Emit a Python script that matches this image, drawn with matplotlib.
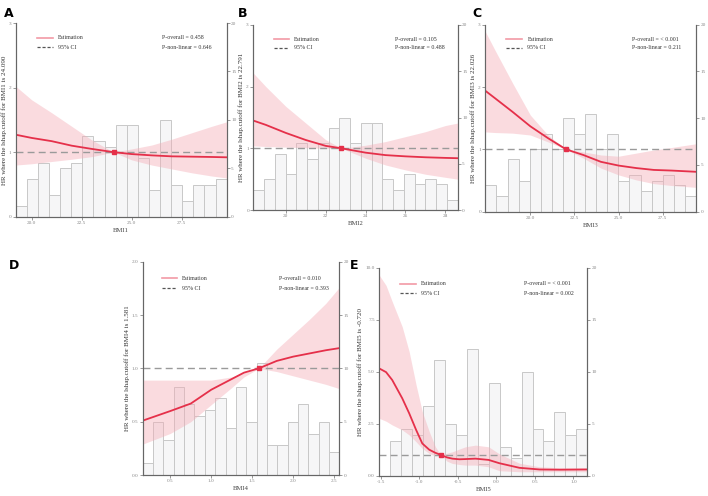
import numpy as np
import matplotlib
matplotlib.use("Agg")
import matplotlib.pyplot as plt

plt.rcParams.update({
    'font.family': 'serif',
    'font.serif': ['Liberation Serif', 'DejaVu Serif'],
    'axes.linewidth': 0.8,
})

# ---------------------------------------------------------------------------
# Data
# ---------------------------------------------------------------------------

# Panel A: BMI1
bmi1_x = [19.2, 20.0, 21.0, 22.0, 23.0, 24.09, 25.0, 26.0, 27.0, 28.0, 29.0, 29.75]
bmi1_est = [1.27, 1.22, 1.17, 1.10, 1.05, 1.00, 0.97, 0.95, 0.935, 0.93, 0.925, 0.92]
bmi1_hi = [2.02, 1.81, 1.61, 1.40, 1.19, 1.00, 1.05, 1.11, 1.20, 1.30, 1.40, 1.47]
bmi1_lo = [0.80, 0.82, 0.855, 0.89, 0.93, 1.00, 0.88, 0.80, 0.74, 0.68, 0.63, 0.60]
bmi1_counts = [1.1, 3.9, 5.5, 2.2, 5.0, 5.5, 8.3, 7.8, 7.2, 9.5, 9.5, 6.1, 2.8, 10.0,
               3.3, 1.6, 3.3, 3.3, 3.9]

# Panel B: BMI2
bmi2_x = [18.37, 19.0, 20.0, 21.0, 22.0, 22.791, 24.0, 25.0, 26.0, 27.0, 28.0, 28.62]
bmi2_est = [1.45, 1.38, 1.25, 1.135, 1.04, 1.00, 0.93, 0.89, 0.87, 0.855, 0.845, 0.84]
bmi2_hi = [2.22, 2.00, 1.68, 1.41, 1.14, 1.00, 1.05, 1.11, 1.19, 1.27, 1.37, 1.41]
bmi2_lo = [1.04, 1.03, 1.02, 1.01, 1.00, 1.00, 0.84, 0.73, 0.65, 0.58, 0.53, 0.50]
bmi2_counts = [2.2, 3.3, 6.1, 3.85, 7.2, 5.5, 7.2, 8.9, 10.0, 7.2, 9.45, 9.45, 3.3,
               2.2, 3.85, 2.8, 3.3, 2.8, 1.1]

# Panel C: BMI3
bmi3_x = [17.45, 18.0, 19.0, 20.0, 21.0, 22.026, 23.0, 24.0, 25.0, 26.0, 27.0, 28.0, 29.39]
bmi3_est = [1.94, 1.82, 1.60, 1.37, 1.18, 1.00, 0.91, 0.80, 0.74, 0.70, 0.67, 0.66, 0.64]
bmi3_hi = [2.89, 2.59, 2.06, 1.55, 1.23, 1.00, 0.96, 0.91, 0.89, 0.94, 0.99, 1.03, 1.09]
bmi3_lo = [1.28, 1.27, 1.26, 1.23, 1.12, 1.00, 0.86, 0.70, 0.59, 0.51, 0.45, 0.42, 0.39]
bmi3_counts = [2.85, 1.7, 5.6, 3.3, 6.7, 8.3, 6.7, 10.0, 8.3, 10.5, 6.7, 8.3, 3.3,
               3.9, 2.25, 3.3, 3.9, 2.85, 1.7]

# Panel D: BMI4
bmi4_x = [0.163, 0.5, 0.75, 1.0, 1.25, 1.4, 1.581, 1.8, 2.0, 2.2, 2.4, 2.565]
bmi4_est = [0.51, 0.60, 0.67, 0.80, 0.90, 0.96, 1.00, 1.07, 1.11, 1.14, 1.17, 1.19]
bmi4_hi = [0.89, 0.89, 0.89, 0.89, 0.92, 0.96, 1.00, 1.18, 1.32, 1.46, 1.61, 1.76]
bmi4_lo = [0.29, 0.39, 0.50, 0.66, 0.82, 0.92, 1.00, 0.97, 0.93, 0.89, 0.85, 0.81]
bmi4_counts = [1.1, 5.0, 3.3, 8.3, 6.7, 5.5, 6.1, 7.2, 4.4, 8.3, 5.0, 10.5, 2.8,
               2.8, 5.0, 6.7, 3.8, 5.0, 2.2]

# Panel E: BMI5
bmi5_x = [-1.52, -1.43, -1.35, -1.22, -1.13, -1.04, -0.96, -0.87, -0.79, -0.72, -0.64,
          -0.57, -0.48, -0.40, -0.27, -0.10, 0.04, 0.30, 0.56, 0.82, 1.18]
bmi5_est = [5.16, 4.98, 4.60, 3.72, 3.00, 2.20, 1.55, 1.25, 1.10, 1.00, 0.88,
            0.82, 0.79, 0.80, 0.82, 0.76, 0.60, 0.38, 0.30, 0.29, 0.30]
bmi5_hi = [9.65, 9.15, 8.37, 7.16, 5.96, 4.36, 3.08, 2.12, 1.39, 1.00, 1.08,
           1.15, 1.28, 1.39, 1.47, 1.39, 1.05, 0.60, 0.43, 0.38, 0.38]
bmi5_lo = [2.76, 2.62, 2.44, 2.20, 1.96, 1.63, 1.31, 1.07, 0.95, 1.00, 0.70,
           0.59, 0.54, 0.51, 0.51, 0.43, 0.24, 0.19, 0.19, 0.19, 0.19]
bmi5_counts = [0.0, 3.33, 4.45, 3.9, 6.67, 11.1, 5.0, 3.9, 12.2, 1.1, 8.9, 2.8,
               1.67, 10.0, 4.45, 3.33, 6.1, 3.9, 4.45]

panels = [
    dict(letter='A', name='BMI1', cutoff=24.090, x=bmi1_x, est=bmi1_est, hi=bmi1_hi,
         lo=bmi1_lo, counts=bmi1_counts, xlim=(19.2, 29.75), xticks=[20.0, 22.5, 25.0, 27.5],
         xfmt='{:.1f}', ylim=(0, 3), yticks=[0, 1, 2, 3], yfmt='{:.0f}',
         p1='P-overall = 0.458', p2='P-non-linear = 0.646',
         rect=[0.0222, 0.5631, 0.298, 0.3905]),
    dict(letter='B', name='BMI2', cutoff=22.791, x=bmi2_x, est=bmi2_est, hi=bmi2_hi,
         lo=bmi2_lo, counts=bmi2_counts, xlim=(18.37, 28.62), xticks=[20, 22, 24, 26, 28],
         xfmt='{:.0f}', ylim=(0, 3), yticks=[0, 1, 2, 3], yfmt='{:.0f}',
         p1='P-overall = 0.105', p2='P-non-linear = 0.488',
         rect=[0.3578, 0.5766, 0.2887, 0.373]),
    dict(letter='C', name='BMI3', cutoff=22.026, x=bmi3_x, est=bmi3_est, hi=bmi3_hi,
         lo=bmi3_lo, counts=bmi3_counts, xlim=(17.45, 29.39), xticks=[20.0, 22.5, 25.0, 27.5],
         xfmt='{:.1f}', ylim=(0, 3), yticks=[0, 1, 2, 3], yfmt='{:.0f}',
         p1='P-overall = < 0.001', p2='P-non-linear = 0.211',
         rect=[0.6855, 0.5732, 0.2976, 0.377]),
    dict(letter='D', name='BMI4', cutoff=1.581, x=bmi4_x, est=bmi4_est, hi=bmi4_hi,
         lo=bmi4_lo, counts=bmi4_counts, xlim=(0.163, 2.565), xticks=[0.5, 1.0, 1.5, 2.0, 2.5],
         xfmt='{:.1f}', ylim=(0, 2), yticks=[0, 0.5, 1.0, 1.5, 2.0], yfmt='{:.1f}',
         p1='P-overall = 0.010', p2='P-non-linear = 0.393',
         rect=[0.2016, 0.0423, 0.2777, 0.430]),
    dict(letter='E', name='BMI5', cutoff=-0.720, x=bmi5_x, est=bmi5_est, hi=bmi5_hi,
         lo=bmi5_lo, counts=bmi5_counts, xlim=(-1.518, 1.18),
         xticks=[-1.5, -1.0, -0.5, 0.0, 0.5, 1.0],
         xfmt='{:.1f}', ylim=(0, 10), yticks=[0, 2.5, 5.0, 7.5, 10.0], yfmt='{:.1f}',
         p1='P-overall = < 0.001', p2='P-non-linear = 0.002',
         rect=[0.5357, 0.0409, 0.2938, 0.4194]),
]

CURVE = '#e5304a'
BAND = '#f4aab5'
SPINE = '#666666'
TICK = '#888888'

fig = plt.figure(figsize=(7.08, 4.96), dpi=100)

for p in panels:
    ax = fig.add_axes(p['rect'])
    axh = ax.twinx()
    ax.set_zorder(axh.get_zorder() + 1)
    ax.patch.set_visible(False)

    # histogram on the right axis
    n = len(p['counts'])
    edges = np.linspace(p['xlim'][0], p['xlim'][1], n + 1)
    axh.bar(edges[:-1], p['counts'], width=np.diff(edges), align='edge',
            color='#f6f6f7', edgecolor='#c8c8c8', linewidth=0.7)
    axh.set_ylim(0, 20)
    axh.set_yticks([0, 5, 10, 15, 20])

    # spline estimate and CI
    ax.fill_between(p['x'], p['lo'], p['hi'], color=BAND, alpha=0.42, linewidth=0)
    ax.axhline(1.0, color='#9a9a9a', linestyle=(0, (5, 3)), linewidth=1.0)
    ax.plot(p['x'], p['est'], color=CURVE, linewidth=1.3)
    ax.plot([p['cutoff']], [1.0], marker='s', markersize=2.2, color=CURVE)

    ax.set_xlim(*p['xlim'])
    ax.set_ylim(*p['ylim'])
    ax.set_xticks(p['xticks'])
    ax.set_xticklabels([p['xfmt'].format(v) for v in p['xticks']])
    ax.set_yticks(p['yticks'])
    ax.set_yticklabels([p['yfmt'].format(v) for v in p['yticks']])

    for a in (ax, axh):
        a.spines['top'].set_visible(False)
        for s in ('left', 'right', 'bottom'):
            a.spines[s].set_color(SPINE)
        a.tick_params(labelsize=3.8, colors=TICK, length=2, width=0.6, pad=1.2)

    ax.set_xlabel(p['name'], fontsize=4.8, color='#444444', labelpad=2)
    ax.set_ylabel('HR where the lshap.cutoff for %s is %.3f' % (p['name'], p['cutoff']),
                  fontsize=5.0, color='#333333', labelpad=1.5)

    # legend drawn in axes coordinates
    ax.plot([0.10, 0.175], [0.923, 0.923], transform=ax.transAxes,
            color='#f29aa6', linewidth=1.2)
    ax.plot([0.10, 0.175], [0.876, 0.876], transform=ax.transAxes,
            color='#555555', linewidth=0.9, linestyle=(0, (2.5, 1.5)))
    ax.text(0.20, 0.923, 'Estimation', transform=ax.transAxes, fontsize=4.2,
            va='center', color='#333333')
    ax.text(0.20, 0.876, '95% CI', transform=ax.transAxes, fontsize=4.2,
            va='center', color='#333333')
    ax.text(0.695, 0.923, p['p1'], transform=ax.transAxes, fontsize=4.2,
            va='center', color='#333333')
    ax.text(0.695, 0.876, p['p2'], transform=ax.transAxes, fontsize=4.2,
            va='center', color='#333333')

# panel letters
letters = {'A': (0.006, 0.985), 'B': (0.336, 0.985), 'C': (0.667, 0.985),
           'D': (0.013, 0.478), 'E': (0.494, 0.478)}
for k, (lx, ly) in letters.items():
    fig.text(lx, ly, k, fontsize=9, fontweight='bold', family='DejaVu Sans',
             va='top', ha='left')

fig.savefig('out.png', dpi=100)
